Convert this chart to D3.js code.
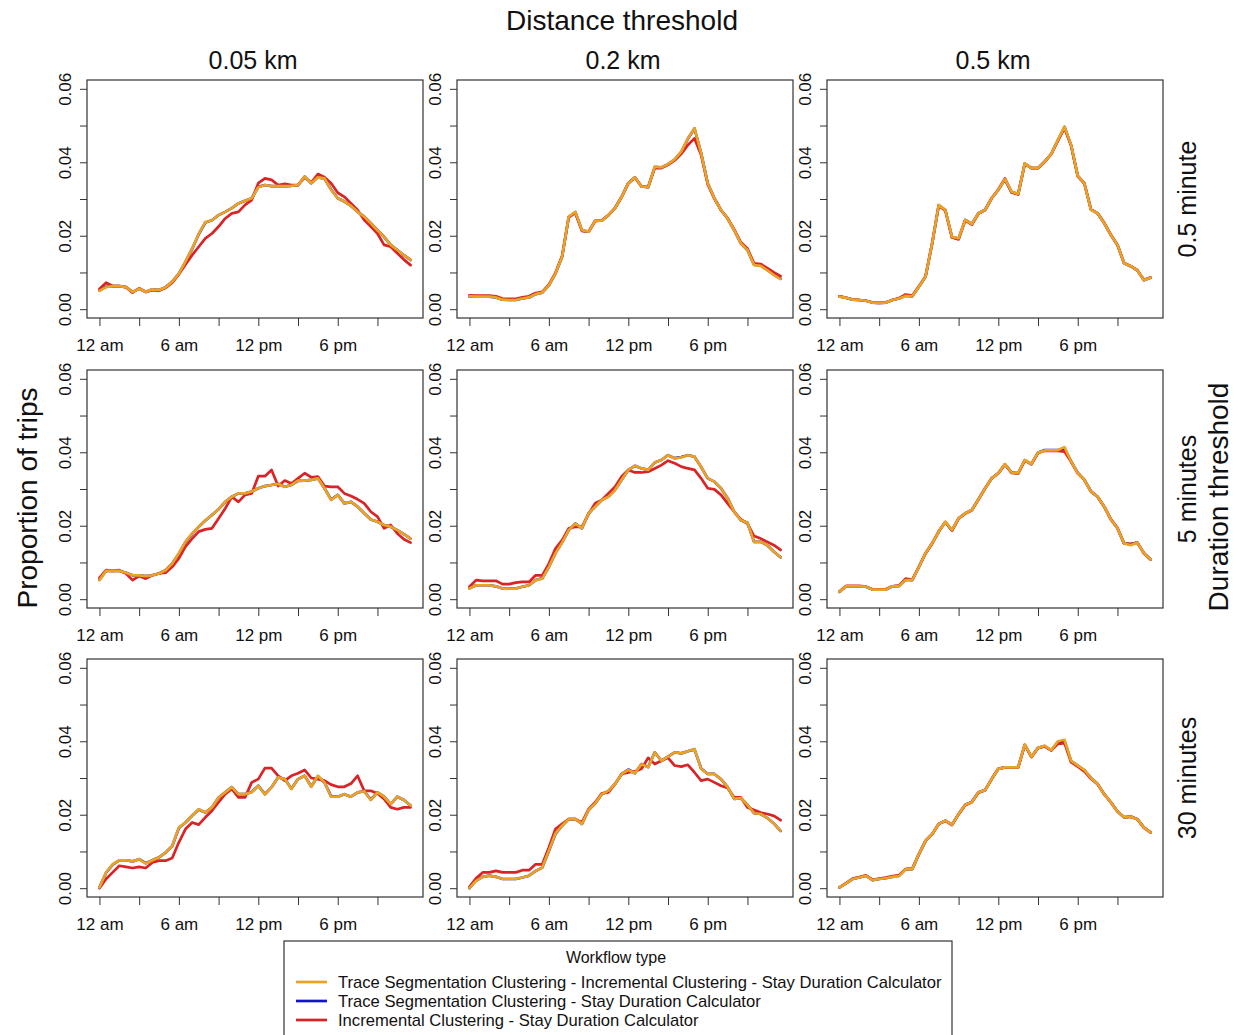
<!DOCTYPE html>
<html>
<head>
<meta charset="utf-8">
<script src="https://cdn.jsdelivr.net/npm/d3@7"></script>
<style>
  body { margin: 0; background: #fff; }
  svg { display: block; }
  text { font-family: "Liberation Sans", Arial, Helvetica, sans-serif; fill: #111; }
</style>
</head>
<body>
<svg id="chart" width="1238" height="1035"></svg>
<script>
// ---- data -------------------------------------------------------------
// half-hour bins over the day (hours since midnight)
const hours = [0, 0.5, 1, 1.5, 2, 2.5, 3, 3.5, 4, 4.5, 5, 5.5, 6, 6.5, 7, 7.5,
  8, 8.5, 9, 9.5, 10, 10.5, 11, 11.5, 12, 12.5, 13, 13.5, 14, 14.5, 15, 15.5,
  16, 16.5, 17, 17.5, 18, 18.5, 19, 19.5, 20, 20.5, 21, 21.5, 22, 22.5, 23, 23.5];

const distanceLabels = ["0.05 km", "0.2 km", "0.5 km"];
const durationLabels = ["0.5 minute", "5 minutes", "30 minutes"];
const workflowNames = [
  "Trace Segmentation Clustering - Incremental Clustering - Stay Duration Calculator",
  "Trace Segmentation Clustering - Stay Duration Calculator",
  "Incremental Clustering - Stay Duration Calculator"
];
const workflowColors = ["#EBA323", "#1414C8", "#D92326"];

const xTickValues = [0, 3, 6, 9, 12, 15, 18, 21];
const xTickLabels = { 0: "12 am", 6: "6 am", 12: "12 pm", 18: "6 pm" };
const yTickValues = [0, 0.01, 0.02, 0.03, 0.04, 0.05, 0.06];
const yTickLabels = [0, 0.02, 0.04, 0.06];

// 0.05 km / 0.5 minute
const d005_m05_tsIcSdc = [0.0050, 0.0060, 0.0063, 0.0063, 0.0060, 0.0047, 0.0056, 0.0047, 0.0054, 0.0052, 0.0060, 0.0075, 0.0097, 0.0130, 0.0165, 0.0205, 0.0237, 0.0242, 0.0256, 0.0265, 0.0275, 0.0288, 0.0295, 0.0302, 0.0332, 0.0338, 0.0335, 0.0335, 0.0335, 0.0336, 0.0338, 0.0361, 0.0343, 0.0359, 0.0356, 0.0325, 0.0302, 0.0293, 0.0281, 0.0265, 0.0252, 0.0234, 0.0215, 0.0197, 0.0175, 0.0161, 0.0147, 0.0134];
const d005_m05_tsSdc   = [0.0051, 0.0061, 0.0063, 0.0063, 0.0060, 0.0047, 0.0056, 0.0047, 0.0054, 0.0052, 0.0060, 0.0075, 0.0097, 0.0129, 0.0164, 0.0204, 0.0236, 0.0242, 0.0256, 0.0265, 0.0275, 0.0288, 0.0295, 0.0302, 0.0333, 0.0338, 0.0335, 0.0335, 0.0335, 0.0336, 0.0338, 0.0361, 0.0343, 0.0359, 0.0356, 0.0326, 0.0302, 0.0293, 0.0281, 0.0265, 0.0252, 0.0234, 0.0215, 0.0197, 0.0175, 0.0161, 0.0147, 0.0134];
const d005_m05_icSdc   = [0.0055, 0.0072, 0.0063, 0.0063, 0.0060, 0.0045, 0.0057, 0.0047, 0.0052, 0.0050, 0.0058, 0.0072, 0.0095, 0.0122, 0.0147, 0.0170, 0.0193, 0.0206, 0.0225, 0.0247, 0.0261, 0.0265, 0.0284, 0.0297, 0.0343, 0.0356, 0.0352, 0.0338, 0.0341, 0.0338, 0.0338, 0.0359, 0.0345, 0.0368, 0.0359, 0.0343, 0.0317, 0.0306, 0.0288, 0.0270, 0.0243, 0.0225, 0.0206, 0.0175, 0.0170, 0.0152, 0.0135, 0.0120];

// 0.2 km / 0.5 minute
const d02_m05_tsIcSdc = [0.0035, 0.0034, 0.0034, 0.0034, 0.0032, 0.0026, 0.0025, 0.0025, 0.0029, 0.0032, 0.0041, 0.0045, 0.0065, 0.0097, 0.0143, 0.0252, 0.0265, 0.0215, 0.0211, 0.0241, 0.0241, 0.0256, 0.0275, 0.0306, 0.0343, 0.0359, 0.0334, 0.0332, 0.0388, 0.0386, 0.0395, 0.0408, 0.0429, 0.0465, 0.0493, 0.0425, 0.0343, 0.0302, 0.0270, 0.0247, 0.0215, 0.0179, 0.0161, 0.0120, 0.0118, 0.0106, 0.0093, 0.0082];
const d02_m05_tsSdc   = [0.0035, 0.0034, 0.0034, 0.0034, 0.0032, 0.0026, 0.0025, 0.0025, 0.0029, 0.0032, 0.0041, 0.0045, 0.0065, 0.0097, 0.0143, 0.0251, 0.0264, 0.0214, 0.0211, 0.0241, 0.0241, 0.0256, 0.0275, 0.0306, 0.0343, 0.0359, 0.0334, 0.0332, 0.0387, 0.0386, 0.0395, 0.0407, 0.0428, 0.0464, 0.0492, 0.0425, 0.0343, 0.0302, 0.0270, 0.0247, 0.0215, 0.0179, 0.0161, 0.0121, 0.0119, 0.0107, 0.0094, 0.0083];
const d02_m05_icSdc   = [0.0038, 0.0037, 0.0037, 0.0037, 0.0035, 0.0029, 0.0028, 0.0028, 0.0032, 0.0035, 0.0044, 0.0047, 0.0067, 0.0099, 0.0145, 0.0250, 0.0262, 0.0213, 0.0211, 0.0240, 0.0242, 0.0256, 0.0276, 0.0306, 0.0343, 0.0358, 0.0334, 0.0333, 0.0385, 0.0384, 0.0393, 0.0405, 0.0423, 0.0447, 0.0465, 0.0420, 0.0340, 0.0301, 0.0270, 0.0248, 0.0217, 0.0182, 0.0165, 0.0125, 0.0123, 0.0112, 0.0100, 0.0090];

// 0.5 km / 0.5 minute
const d05_m05_tsIcSdc = [0.0034, 0.0031, 0.0026, 0.0025, 0.0023, 0.0018, 0.0017, 0.0018, 0.0025, 0.0029, 0.0036, 0.0035, 0.0061, 0.0088, 0.0179, 0.0284, 0.0270, 0.0197, 0.0193, 0.0243, 0.0232, 0.0261, 0.0270, 0.0302, 0.0325, 0.0354, 0.0320, 0.0314, 0.0397, 0.0384, 0.0384, 0.0402, 0.0423, 0.0461, 0.0497, 0.0447, 0.0363, 0.0343, 0.0270, 0.0261, 0.0234, 0.0202, 0.0175, 0.0125, 0.0117, 0.0106, 0.0079, 0.0086];
const d05_m05_tsSdc   = [0.0035, 0.0031, 0.0026, 0.0025, 0.0023, 0.0018, 0.0017, 0.0018, 0.0025, 0.0029, 0.0037, 0.0035, 0.0061, 0.0088, 0.0179, 0.0283, 0.0270, 0.0196, 0.0192, 0.0243, 0.0232, 0.0261, 0.0270, 0.0302, 0.0325, 0.0353, 0.0319, 0.0314, 0.0396, 0.0384, 0.0384, 0.0402, 0.0423, 0.0460, 0.0496, 0.0446, 0.0363, 0.0343, 0.0271, 0.0261, 0.0234, 0.0202, 0.0175, 0.0125, 0.0117, 0.0106, 0.0079, 0.0086];
const d05_m05_icSdc   = [0.0035, 0.0031, 0.0026, 0.0025, 0.0023, 0.0018, 0.0017, 0.0018, 0.0025, 0.0030, 0.0040, 0.0037, 0.0062, 0.0089, 0.0178, 0.0282, 0.0268, 0.0195, 0.0190, 0.0242, 0.0230, 0.0260, 0.0270, 0.0302, 0.0326, 0.0356, 0.0318, 0.0312, 0.0396, 0.0384, 0.0384, 0.0401, 0.0422, 0.0458, 0.0493, 0.0445, 0.0362, 0.0342, 0.0272, 0.0261, 0.0235, 0.0203, 0.0175, 0.0126, 0.0117, 0.0106, 0.0080, 0.0086];

// 0.05 km / 5 minutes
const d005_m5_tsIcSdc = [0.0052, 0.0077, 0.0077, 0.0077, 0.0072, 0.0065, 0.0065, 0.0063, 0.0065, 0.0070, 0.0079, 0.0097, 0.0125, 0.0156, 0.0179, 0.0197, 0.0215, 0.0229, 0.0245, 0.0265, 0.0279, 0.0288, 0.0288, 0.0293, 0.0302, 0.0308, 0.0311, 0.0314, 0.0306, 0.0311, 0.0323, 0.0323, 0.0325, 0.0329, 0.0302, 0.0270, 0.0284, 0.0261, 0.0265, 0.0252, 0.0234, 0.0217, 0.0211, 0.0202, 0.0197, 0.0188, 0.0177, 0.0165];
const d005_m5_tsSdc   = [0.0053, 0.0077, 0.0077, 0.0077, 0.0072, 0.0065, 0.0065, 0.0063, 0.0065, 0.0070, 0.0079, 0.0097, 0.0124, 0.0155, 0.0178, 0.0197, 0.0214, 0.0229, 0.0245, 0.0265, 0.0279, 0.0288, 0.0288, 0.0293, 0.0302, 0.0308, 0.0311, 0.0314, 0.0306, 0.0311, 0.0322, 0.0323, 0.0325, 0.0329, 0.0302, 0.0271, 0.0284, 0.0261, 0.0265, 0.0252, 0.0234, 0.0217, 0.0211, 0.0202, 0.0197, 0.0188, 0.0177, 0.0165];
const d005_m5_icSdc   = [0.0058, 0.0079, 0.0077, 0.0079, 0.0070, 0.0052, 0.0063, 0.0056, 0.0065, 0.0070, 0.0072, 0.0088, 0.0111, 0.0143, 0.0165, 0.0184, 0.0190, 0.0193, 0.0220, 0.0247, 0.0279, 0.0265, 0.0284, 0.0288, 0.0335, 0.0335, 0.0352, 0.0308, 0.0323, 0.0315, 0.0329, 0.0343, 0.0332, 0.0334, 0.0308, 0.0306, 0.0306, 0.0288, 0.0281, 0.0272, 0.0261, 0.0238, 0.0225, 0.0193, 0.0202, 0.0179, 0.0163, 0.0154];

// 0.2 km / 5 minutes
const d02_m5_tsIcSdc = [0.0029, 0.0038, 0.0038, 0.0038, 0.0035, 0.0029, 0.0029, 0.0029, 0.0034, 0.0038, 0.0052, 0.0056, 0.0088, 0.0125, 0.0154, 0.0188, 0.0206, 0.0193, 0.0234, 0.0252, 0.0270, 0.0279, 0.0297, 0.0325, 0.0352, 0.0363, 0.0356, 0.0352, 0.0372, 0.0379, 0.0392, 0.0383, 0.0386, 0.0392, 0.0388, 0.0360, 0.0329, 0.0320, 0.0302, 0.0275, 0.0238, 0.0215, 0.0208, 0.0156, 0.0156, 0.0147, 0.0129, 0.0114];
const d02_m5_tsSdc   = [0.0030, 0.0038, 0.0038, 0.0038, 0.0035, 0.0029, 0.0029, 0.0029, 0.0034, 0.0038, 0.0052, 0.0057, 0.0088, 0.0126, 0.0155, 0.0188, 0.0206, 0.0193, 0.0234, 0.0252, 0.0270, 0.0280, 0.0298, 0.0325, 0.0352, 0.0363, 0.0356, 0.0352, 0.0372, 0.0379, 0.0392, 0.0384, 0.0387, 0.0392, 0.0388, 0.0360, 0.0329, 0.0320, 0.0302, 0.0275, 0.0238, 0.0215, 0.0208, 0.0156, 0.0156, 0.0147, 0.0129, 0.0114];
const d02_m5_icSdc   = [0.0034, 0.0052, 0.0050, 0.0050, 0.0050, 0.0041, 0.0041, 0.0045, 0.0047, 0.0047, 0.0065, 0.0065, 0.0097, 0.0138, 0.0161, 0.0193, 0.0197, 0.0197, 0.0232, 0.0261, 0.0270, 0.0288, 0.0306, 0.0334, 0.0352, 0.0345, 0.0345, 0.0347, 0.0356, 0.0365, 0.0377, 0.0370, 0.0361, 0.0356, 0.0352, 0.0329, 0.0302, 0.0299, 0.0284, 0.0261, 0.0238, 0.0217, 0.0206, 0.0172, 0.0165, 0.0156, 0.0147, 0.0134];

// 0.5 km / 5 minutes
const d05_m5_tsIcSdc = [0.0020, 0.0035, 0.0035, 0.0035, 0.0034, 0.0026, 0.0026, 0.0026, 0.0035, 0.0035, 0.0052, 0.0052, 0.0088, 0.0125, 0.0152, 0.0184, 0.0211, 0.0188, 0.0220, 0.0234, 0.0243, 0.0272, 0.0302, 0.0329, 0.0343, 0.0368, 0.0345, 0.0343, 0.0379, 0.0368, 0.0399, 0.0405, 0.0405, 0.0406, 0.0414, 0.0375, 0.0343, 0.0325, 0.0293, 0.0279, 0.0252, 0.0217, 0.0193, 0.0152, 0.0147, 0.0154, 0.0125, 0.0108];
const d05_m5_tsSdc   = [0.0020, 0.0035, 0.0035, 0.0035, 0.0034, 0.0026, 0.0026, 0.0026, 0.0035, 0.0036, 0.0053, 0.0052, 0.0088, 0.0125, 0.0152, 0.0184, 0.0210, 0.0187, 0.0220, 0.0234, 0.0243, 0.0272, 0.0302, 0.0329, 0.0343, 0.0367, 0.0345, 0.0343, 0.0378, 0.0368, 0.0399, 0.0406, 0.0406, 0.0406, 0.0410, 0.0375, 0.0344, 0.0325, 0.0293, 0.0279, 0.0252, 0.0217, 0.0193, 0.0152, 0.0150, 0.0154, 0.0125, 0.0108];
const d05_m5_icSdc   = [0.0021, 0.0036, 0.0036, 0.0036, 0.0034, 0.0027, 0.0027, 0.0027, 0.0035, 0.0037, 0.0056, 0.0053, 0.0088, 0.0124, 0.0151, 0.0184, 0.0210, 0.0187, 0.0219, 0.0233, 0.0242, 0.0271, 0.0301, 0.0329, 0.0343, 0.0367, 0.0344, 0.0342, 0.0378, 0.0367, 0.0398, 0.0404, 0.0404, 0.0404, 0.0402, 0.0374, 0.0343, 0.0325, 0.0294, 0.0279, 0.0252, 0.0218, 0.0194, 0.0152, 0.0150, 0.0154, 0.0125, 0.0108];

// 0.05 km / 30 minutes
const d005_m30_tsIcSdc = [0.0002, 0.0043, 0.0065, 0.0076, 0.0076, 0.0073, 0.0079, 0.0067, 0.0076, 0.0084, 0.0097, 0.0115, 0.0165, 0.0179, 0.0197, 0.0215, 0.0206, 0.0220, 0.0247, 0.0261, 0.0275, 0.0256, 0.0256, 0.0261, 0.0279, 0.0255, 0.0275, 0.0302, 0.0297, 0.0270, 0.0297, 0.0306, 0.0276, 0.0306, 0.0288, 0.0249, 0.0249, 0.0256, 0.0249, 0.0261, 0.0264, 0.0240, 0.0261, 0.0249, 0.0229, 0.0249, 0.0240, 0.0225];
const d005_m30_tsSdc   = [0.0002, 0.0042, 0.0064, 0.0076, 0.0076, 0.0073, 0.0079, 0.0068, 0.0076, 0.0084, 0.0097, 0.0115, 0.0164, 0.0179, 0.0197, 0.0214, 0.0206, 0.0220, 0.0247, 0.0261, 0.0275, 0.0256, 0.0256, 0.0262, 0.0279, 0.0256, 0.0275, 0.0302, 0.0297, 0.0271, 0.0297, 0.0306, 0.0277, 0.0305, 0.0288, 0.0250, 0.0249, 0.0256, 0.0249, 0.0261, 0.0264, 0.0241, 0.0261, 0.0249, 0.0229, 0.0249, 0.0240, 0.0225];
const d005_m30_icSdc   = [0.0000, 0.0025, 0.0043, 0.0061, 0.0058, 0.0055, 0.0058, 0.0055, 0.0070, 0.0075, 0.0075, 0.0082, 0.0125, 0.0161, 0.0179, 0.0173, 0.0193, 0.0211, 0.0234, 0.0256, 0.0270, 0.0247, 0.0247, 0.0288, 0.0297, 0.0327, 0.0327, 0.0306, 0.0293, 0.0306, 0.0313, 0.0322, 0.0300, 0.0297, 0.0293, 0.0282, 0.0276, 0.0276, 0.0285, 0.0306, 0.0265, 0.0265, 0.0258, 0.0243, 0.0220, 0.0215, 0.0220, 0.0220];

// 0.2 km / 30 minutes
const d02_m30_tsIcSdc = [0.0000, 0.0020, 0.0031, 0.0034, 0.0031, 0.0025, 0.0025, 0.0025, 0.0029, 0.0034, 0.0047, 0.0056, 0.0102, 0.0149, 0.0170, 0.0188, 0.0188, 0.0175, 0.0213, 0.0231, 0.0256, 0.0265, 0.0284, 0.0311, 0.0322, 0.0313, 0.0338, 0.0329, 0.0370, 0.0347, 0.0358, 0.0370, 0.0367, 0.0373, 0.0379, 0.0325, 0.0311, 0.0311, 0.0297, 0.0275, 0.0243, 0.0245, 0.0227, 0.0204, 0.0202, 0.0191, 0.0176, 0.0156];
const d02_m30_tsSdc   = [0.0000, 0.0021, 0.0031, 0.0034, 0.0031, 0.0025, 0.0025, 0.0025, 0.0029, 0.0034, 0.0047, 0.0056, 0.0101, 0.0148, 0.0170, 0.0188, 0.0188, 0.0175, 0.0213, 0.0231, 0.0256, 0.0265, 0.0284, 0.0311, 0.0323, 0.0313, 0.0338, 0.0330, 0.0370, 0.0347, 0.0358, 0.0370, 0.0367, 0.0373, 0.0378, 0.0326, 0.0311, 0.0311, 0.0297, 0.0275, 0.0243, 0.0245, 0.0227, 0.0204, 0.0202, 0.0191, 0.0176, 0.0156];
const d02_m30_icSdc   = [0.0004, 0.0027, 0.0043, 0.0043, 0.0047, 0.0043, 0.0043, 0.0043, 0.0049, 0.0049, 0.0065, 0.0065, 0.0111, 0.0161, 0.0175, 0.0188, 0.0188, 0.0179, 0.0215, 0.0234, 0.0258, 0.0261, 0.0284, 0.0311, 0.0315, 0.0318, 0.0325, 0.0355, 0.0338, 0.0347, 0.0355, 0.0334, 0.0331, 0.0336, 0.0315, 0.0293, 0.0297, 0.0288, 0.0279, 0.0273, 0.0247, 0.0247, 0.0220, 0.0213, 0.0206, 0.0202, 0.0197, 0.0185];

// 0.5 km / 30 minutes
const d05_m30_tsIcSdc = [0.0002, 0.0013, 0.0025, 0.0029, 0.0034, 0.0022, 0.0025, 0.0027, 0.0031, 0.0033, 0.0052, 0.0052, 0.0093, 0.0129, 0.0147, 0.0175, 0.0184, 0.0173, 0.0202, 0.0227, 0.0234, 0.0261, 0.0267, 0.0297, 0.0325, 0.0329, 0.0329, 0.0329, 0.0391, 0.0358, 0.0382, 0.0388, 0.0376, 0.0400, 0.0404, 0.0347, 0.0334, 0.0322, 0.0300, 0.0284, 0.0256, 0.0234, 0.0209, 0.0193, 0.0195, 0.0188, 0.0165, 0.0152];
const d05_m30_tsSdc   = [0.0002, 0.0013, 0.0025, 0.0029, 0.0034, 0.0022, 0.0025, 0.0027, 0.0031, 0.0034, 0.0052, 0.0052, 0.0093, 0.0129, 0.0147, 0.0175, 0.0184, 0.0173, 0.0202, 0.0227, 0.0235, 0.0261, 0.0267, 0.0297, 0.0325, 0.0329, 0.0329, 0.0329, 0.0390, 0.0358, 0.0382, 0.0387, 0.0375, 0.0398, 0.0401, 0.0346, 0.0334, 0.0321, 0.0300, 0.0284, 0.0256, 0.0234, 0.0209, 0.0193, 0.0195, 0.0188, 0.0165, 0.0152];
const d05_m30_icSdc   = [0.0002, 0.0014, 0.0026, 0.0030, 0.0035, 0.0023, 0.0026, 0.0029, 0.0033, 0.0035, 0.0052, 0.0053, 0.0092, 0.0128, 0.0147, 0.0175, 0.0183, 0.0172, 0.0201, 0.0226, 0.0234, 0.0260, 0.0267, 0.0297, 0.0325, 0.0329, 0.0329, 0.0329, 0.0390, 0.0357, 0.0381, 0.0386, 0.0375, 0.0393, 0.0395, 0.0343, 0.0331, 0.0318, 0.0298, 0.0283, 0.0256, 0.0234, 0.0209, 0.0193, 0.0195, 0.0188, 0.0165, 0.0152];

// panel grid: rows = duration threshold, columns = distance threshold
const panels = [
  [[d005_m05_tsIcSdc, d005_m05_tsSdc, d005_m05_icSdc],
   [d02_m05_tsIcSdc, d02_m05_tsSdc, d02_m05_icSdc],
   [d05_m05_tsIcSdc, d05_m05_tsSdc, d05_m05_icSdc]],
  [[d005_m5_tsIcSdc, d005_m5_tsSdc, d005_m5_icSdc],
   [d02_m5_tsIcSdc, d02_m5_tsSdc, d02_m5_icSdc],
   [d05_m5_tsIcSdc, d05_m5_tsSdc, d05_m5_icSdc]],
  [[d005_m30_tsIcSdc, d005_m30_tsSdc, d005_m30_icSdc],
   [d02_m30_tsIcSdc, d02_m30_tsSdc, d02_m30_icSdc],
   [d05_m30_tsIcSdc, d05_m30_tsSdc, d05_m30_icSdc]]
];

// ---- layout -----------------------------------------------------------
const colLeft = [87, 457, 827];
const rowTop = [80, 370, 659];
const panelW = 336, panelH = 238;
const xDomain = [-0.94, 24.44];     // data range plus 4% padding each side
const yDomain = [-0.0024, 0.0624];
const tickFont = 17;

const svg = d3.select("#chart");

// paint order: blue underneath, then red, orange on top
const drawOrder = [1, 2, 0];

panels.forEach((row, r) => {
  row.forEach((series, c) => {
    const x0 = colLeft[c], y0 = rowTop[r];
    const x = d3.scaleLinear().domain(xDomain).range([x0, x0 + panelW]);
    const y = d3.scaleLinear().domain(yDomain).range([y0 + panelH, y0]);
    const g = svg.append("g");

    // x axis (ticks every 3 h, labels every 6 h)
    const xAxis = d3.axisBottom(x)
      .tickValues(xTickValues)
      .tickSize(8)
      .tickSizeOuter(0)
      .tickFormat(d => xTickLabels[d] || "");
    const gx = g.append("g").attr("transform", `translate(0,${y0 + panelH})`).call(xAxis);
    gx.select(".domain").remove();
    gx.selectAll("line").attr("stroke", "#333");
    gx.selectAll("text").attr("font-size", tickFont).attr("fill", "#111")
      .attr("y", 27).attr("dy", "0.35em");

    // y axis (ticks every 0.01, labels every 0.02, rotated)
    const yAxis = d3.axisLeft(y)
      .tickValues(yTickValues)
      .tickSize(7)
      .tickSizeOuter(0)
      .tickFormat(d => yTickLabels.some(v => Math.abs(v - d) < 1e-9) ? d3.format(".2f")(d) : "");
    const gy = g.append("g").attr("transform", `translate(${x0},0)`).call(yAxis);
    gy.select(".domain").remove();
    gy.selectAll("line").attr("stroke", "#333");
    gy.selectAll("text")
      .attr("font-size", tickFont).attr("fill", "#111")
      .attr("text-anchor", "middle")
      .attr("transform", "rotate(-90)")
      .attr("x", 0).attr("y", -22).attr("dy", "0.35em");

    // series lines
    const line = d3.line().x((d, i) => x(hours[i])).y(d => y(d));
    drawOrder.forEach(k => {
      g.append("path")
        .datum(series[k])
        .attr("d", line)
        .attr("fill", "none")
        .attr("stroke", workflowColors[k])
        .attr("stroke-width", 2.7)
        .attr("stroke-linejoin", "round")
        .attr("stroke-linecap", "round");
    });

    // panel frame
    g.append("rect")
      .attr("x", x0).attr("y", y0).attr("width", panelW).attr("height", panelH)
      .attr("fill", "none").attr("stroke", "#333").attr("stroke-width", 1.2);
  });
});

// ---- strip labels -----------------------------------------------------
svg.append("text")
  .attr("x", 622).attr("y", 20).attr("dy", "0.35em")
  .attr("text-anchor", "middle").attr("font-size", 28)
  .text("Distance threshold");

distanceLabels.forEach((lab, c) => {
  svg.append("text")
    .attr("x", colLeft[c] + panelW / 2 - 2).attr("y", 60).attr("dy", "0.35em")
    .attr("text-anchor", "middle").attr("font-size", 25)
    .text(lab);
});

durationLabels.forEach((lab, r) => {
  const cy = rowTop[r] + panelH / 2;
  svg.append("text")
    .attr("transform", `translate(1187,${cy}) rotate(-90)`)
    .attr("dy", "0.35em")
    .attr("text-anchor", "middle").attr("font-size", 25)
    .text(lab);
});

svg.append("text")
  .attr("transform", "translate(1218,497) rotate(-90)")
  .attr("dy", "0.35em").attr("text-anchor", "middle").attr("font-size", 28)
  .text("Duration threshold");

svg.append("text")
  .attr("transform", "translate(27,498) rotate(-90)")
  .attr("dy", "0.35em").attr("text-anchor", "middle").attr("font-size", 28)
  .text("Proportion of trips");

// ---- legend -----------------------------------------------------------
const legend = svg.append("g");
legend.append("rect")
  .attr("x", 284).attr("y", 941).attr("width", 668).attr("height", 120)
  .attr("fill", "#fff").attr("stroke", "#333").attr("stroke-width", 1.2);
legend.append("text")
  .attr("x", 616).attr("y", 957).attr("dy", "0.35em")
  .attr("text-anchor", "middle").attr("font-size", 16)
  .text("Workflow type");
const legendY = d3.scalePoint().domain(d3.range(workflowNames.length)).range([982, 1020]);
workflowNames.forEach((name, k) => {
  const ly = legendY(k);
  legend.append("line")
    .attr("x1", 296).attr("x2", 327).attr("y1", ly).attr("y2", ly)
    .attr("stroke", workflowColors[k]).attr("stroke-width", 2.7);
  legend.append("text")
    .attr("x", 338).attr("y", ly).attr("dy", "0.35em")
    .attr("font-size", 16.6)
    .text(name);
});
</script>
</body>
</html>
